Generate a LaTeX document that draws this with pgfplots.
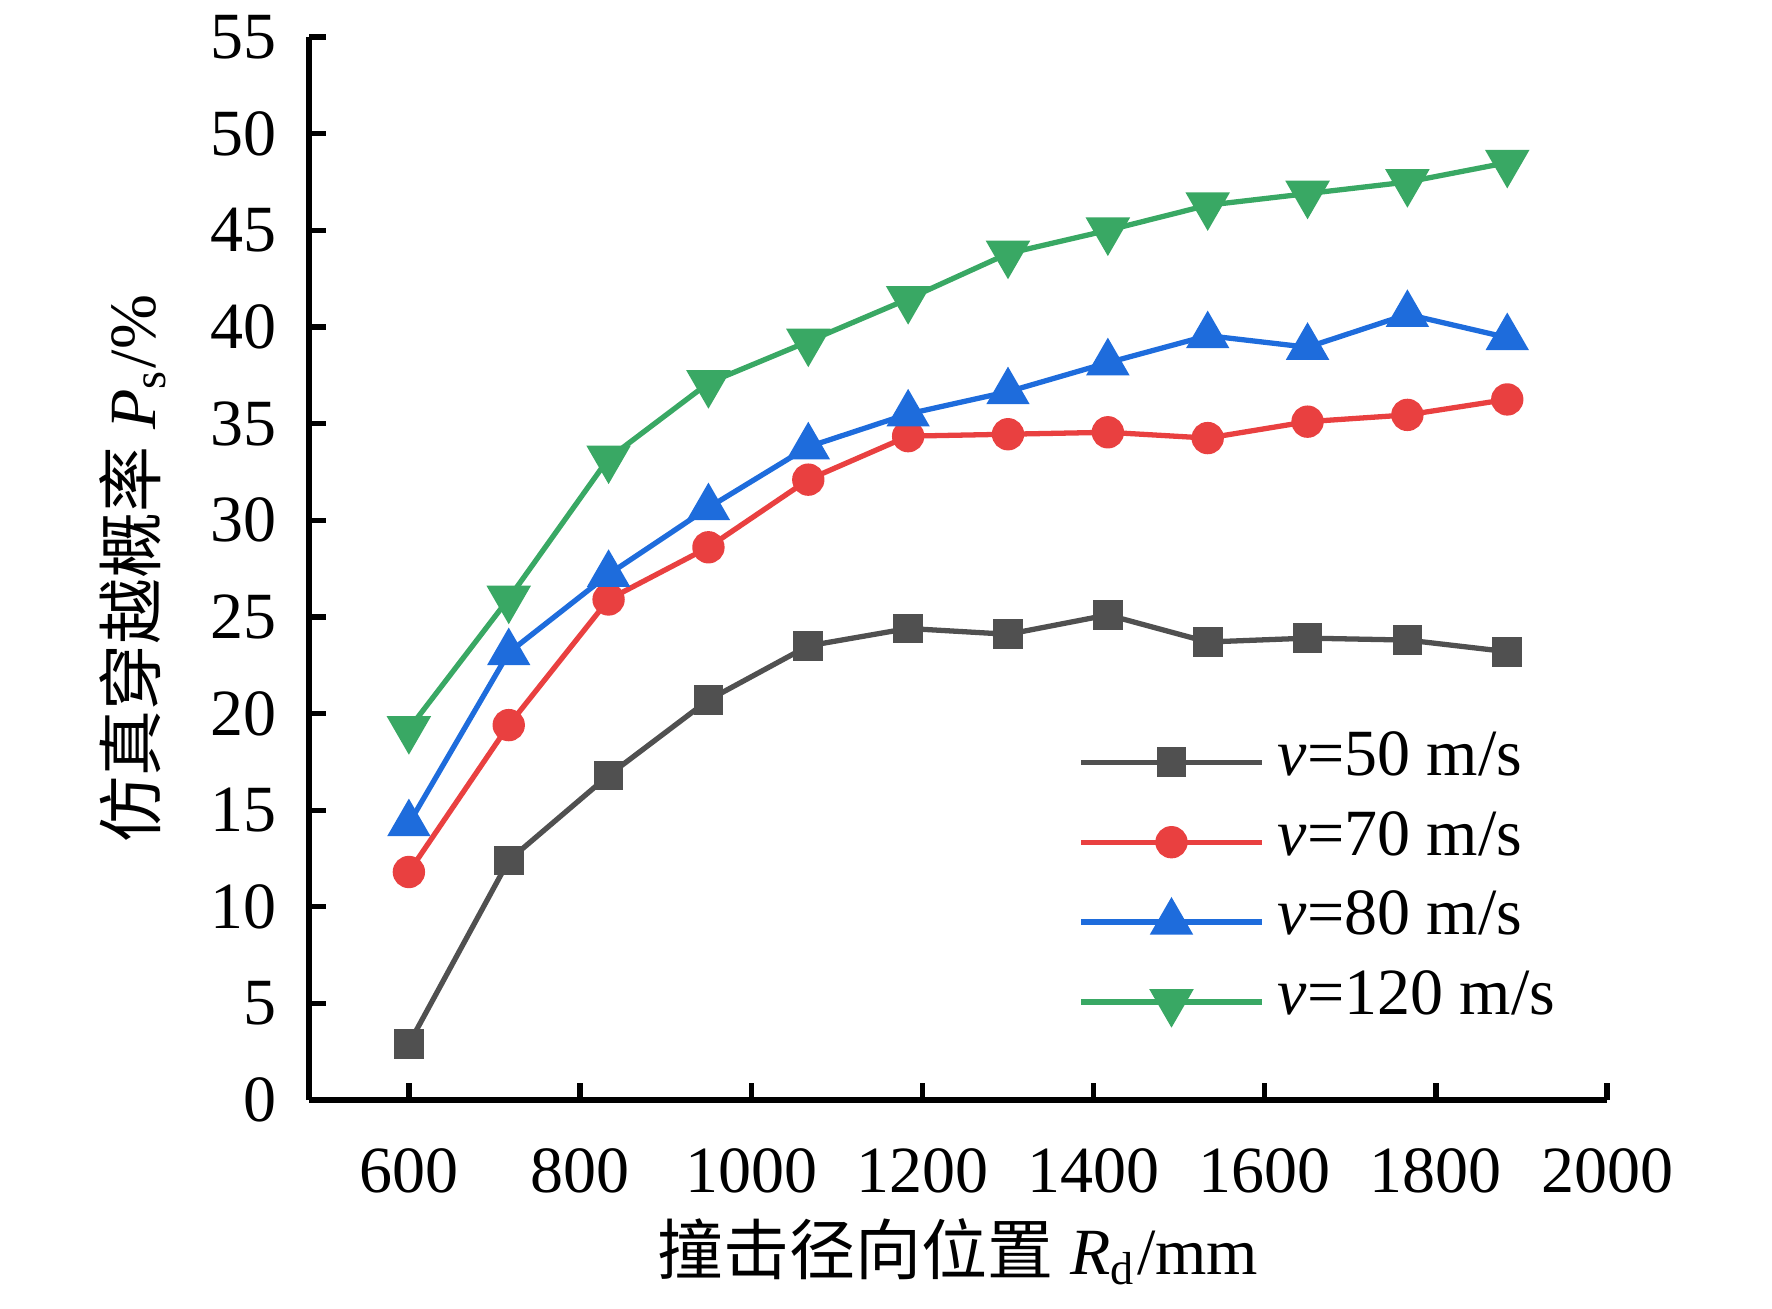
\documentclass[border=0pt]{standalone}
\usepackage{fontspec}
\setmainfont{Liberation Serif}
\newfontfamily\cjk{Noto Sans CJK SC}
\usepackage{pgfplots}
\pgfplotsset{compat=1.18}
\definecolor{cgray}{RGB}{80,80,80}
\definecolor{cred}{RGB}{233,64,64}
\definecolor{cblue}{RGB}{30,108,220}
\definecolor{cgreen}{RGB}{57,168,100}
\begin{document}
\begin{tikzpicture}
\path[use as bounding box] (-46.82pt,-31.52pt) rectangle (221.65pt,166.67pt);
\begin{axis}[
  scale only axis, width=196.67pt, height=161.06pt,
  xmin=483.33, xmax=2000, ymin=0, ymax=55,
  axis x line*=bottom, axis y line*=left,
  axis line style={line width=0.8pt},
  tick align=inside, major tick length=2.6pt,
  tick style={line width=0.8pt, black},
  xtick={600,800,...,2000}, ytick={0,5,...,55},
  minor tick num=0,
  /pgf/number format/assume math mode=true,
  /pgf/number format/1000 sep={},
  xticklabel style={yshift=-3.8pt},
  yticklabel style={xshift=-1.4pt},
  xlabel={{\cjk 撞击径向位置} \textit{R}\textsubscript{d}/mm},
  ylabel={{\cjk 仿真穿越概率} \textit{P}\textsubscript{s}/\%},
  every axis x label/.style={at={(axis description cs:0.5,-0.1428)},anchor=center},
  every axis y label/.style={at={(axis description cs:-0.1357,0.5)},anchor=center,rotate=90},
  legend style={draw=none, fill=none, at={(axis description cs:0.5917,0.3565)}, anchor=north west,
    inner sep=0pt, row sep=0pt, nodes={inner xsep=2pt, inner ysep=0pt, text height=8pt, text depth=4.1pt}},
  legend cell align=left,
  legend image code/.code={\draw[mark repeat=2,mark phase=2] plot coordinates {(0pt,0pt) (13.7pt,0pt) (27.4pt,0pt)};},
  clip=false,
]
\addplot[color=cgray, line width=0.8pt, mark=square*, mark size=1.85pt, mark options={solid}] coordinates {
(600,2.9) (716.67,12.4) (833.33,16.8) (950,20.7) (1066.67,23.5) (1183.33,24.4)
(1300,24.1) (1416.67,25.1) (1533.33,23.7) (1650,23.9) (1766.67,23.8) (1883.33,23.2)};
\addlegendentry{\textit{v}=50 m/s}
\addplot[color=cred, line width=0.8pt, mark=*, mark size=2.05pt, mark options={solid}] coordinates {
(600,11.8) (716.67,19.4) (833.33,25.9) (950,28.6) (1066.67,32.1) (1183.33,34.35)
(1300,34.45) (1416.67,34.55) (1533.33,34.25) (1650,35.1) (1766.67,35.45) (1883.33,36.25)};
\addlegendentry{\textit{v}=70 m/s}
\addplot[color=cblue, line width=0.8pt, mark=triangle*, mark size=3.0pt, mark options={solid}] coordinates {
(600,14.3) (716.67,23.15) (833.33,27.2) (950,30.65) (1066.67,33.8) (1183.33,35.5)
(1300,36.65) (1416.67,38.15) (1533.33,39.55) (1650,38.95) (1766.67,40.65) (1883.33,39.45)};
\addlegendentry{\textit{v}=80 m/s}
\addplot[color=cgreen, line width=0.8pt, mark=triangle*, mark size=3.1pt, mark options={solid, rotate=180}] coordinates {
(600,19.2) (716.67,25.95) (833.33,33.2) (950,37.1) (1066.67,39.25) (1183.33,41.45)
(1300,43.8) (1416.67,45.0) (1533.33,46.3) (1650,46.9) (1766.67,47.5) (1883.33,48.5)};
\addlegendentry{\textit{v}=120 m/s}
\end{axis}
\end{tikzpicture}
\end{document}
